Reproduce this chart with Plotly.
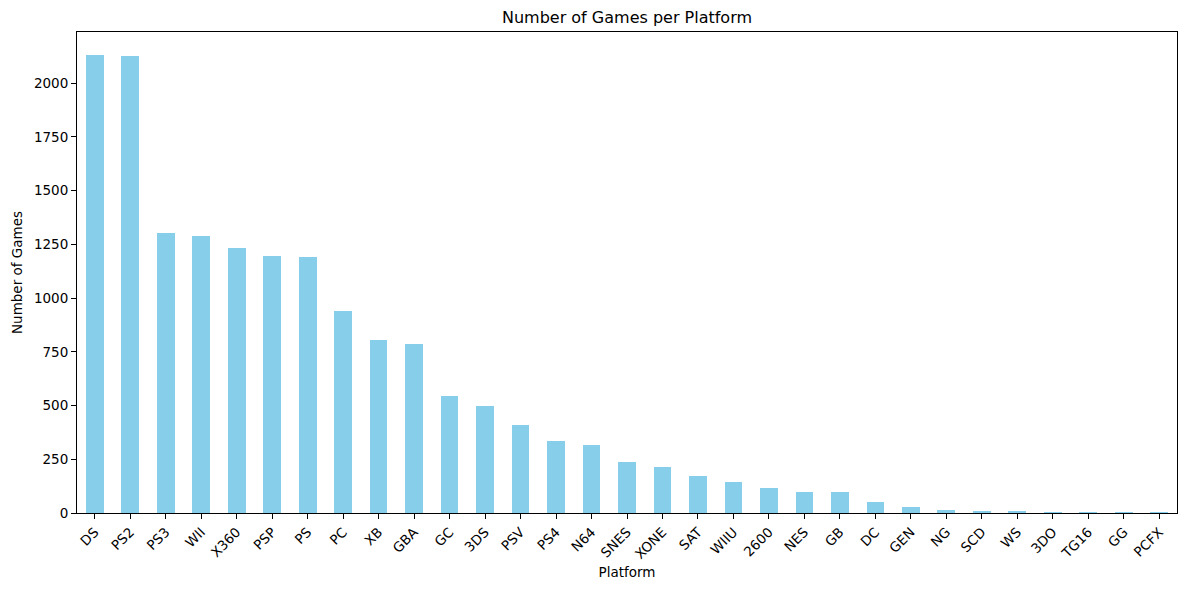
import plotly.graph_objects as go

platforms = ["DS", "PS2", "PS3", "WII", "X360", "PSP", "PS", "PC", "XB", "GBA", "GC", "3DS",
             "PSV", "PS4", "N64", "SNES", "XONE", "SAT", "WIIU", "2600", "NES", "GB", "DC",
             "GEN", "NG", "SCD", "WS", "3DO", "TG16", "GG", "PCFX"]
game_counts = [2131, 2127, 1304, 1290, 1235, 1197, 1189, 938, 803, 786, 542, 499,
               410, 336, 316, 239, 213, 173, 143, 116, 98, 97, 52,
               27, 12, 6, 6, 3, 2, 1, 1]
y_ticks = [0, 250, 500, 750, 1000, 1250, 1500, 1750, 2000]

font = "DejaVu Sans"
W, H = 1179, 582  # page body has an 8px margin
fig = go.Figure(go.Bar(
    x=list(range(len(platforms))),
    y=game_counts,
    width=0.5,
    marker=dict(color="#87CEEB", line=dict(width=0)),
))

fig.update_layout(
    width=W, height=H,
    margin=dict(l=69, r=10, t=24, b=77),
    paper_bgcolor="white", plot_bgcolor="white",
    font=dict(family=font, size=13.5, color="black"),
    title=dict(text="Number of Games per Platform", x=0.5, xanchor="center",
               xref="paper", y=1 - 9 / H, yanchor="middle",
               font=dict(family=font, size=16, color="black")),
    showlegend=False,
    bargap=0,
)
fig.update_xaxes(
    range=[-0.5, len(platforms) - 0.5],
    tickmode="array", tickvals=list(range(len(platforms))), ticktext=platforms,
    tickangle=-45, ticks="outside", ticklen=5, tickwidth=1, tickcolor="black",
    showline=True, linecolor="black", linewidth=1, mirror=True,
    showgrid=False, zeroline=False,
    tickfont=dict(family=font, size=13.5, color="black"),
    title=dict(text="Platform", standoff=6, font=dict(family=font, size=13.5, color="black")),
    automargin=False,
)
fig.update_yaxes(
    range=[0, 2131 * 1.05],
    tickmode="array", tickvals=y_ticks, ticktext=[str(v) for v in y_ticks],
    ticks="outside", ticklen=5, tickwidth=1, tickcolor="black",
    showline=True, linecolor="black", linewidth=1, mirror=True,
    showgrid=False, zeroline=False,
    tickfont=dict(family=font, size=13.5, color="black"),
    title=dict(text="Number of Games", standoff=8, font=dict(family=font, size=13.5, color="black")),
    automargin=False,
)

fig.write_html("out.html")
